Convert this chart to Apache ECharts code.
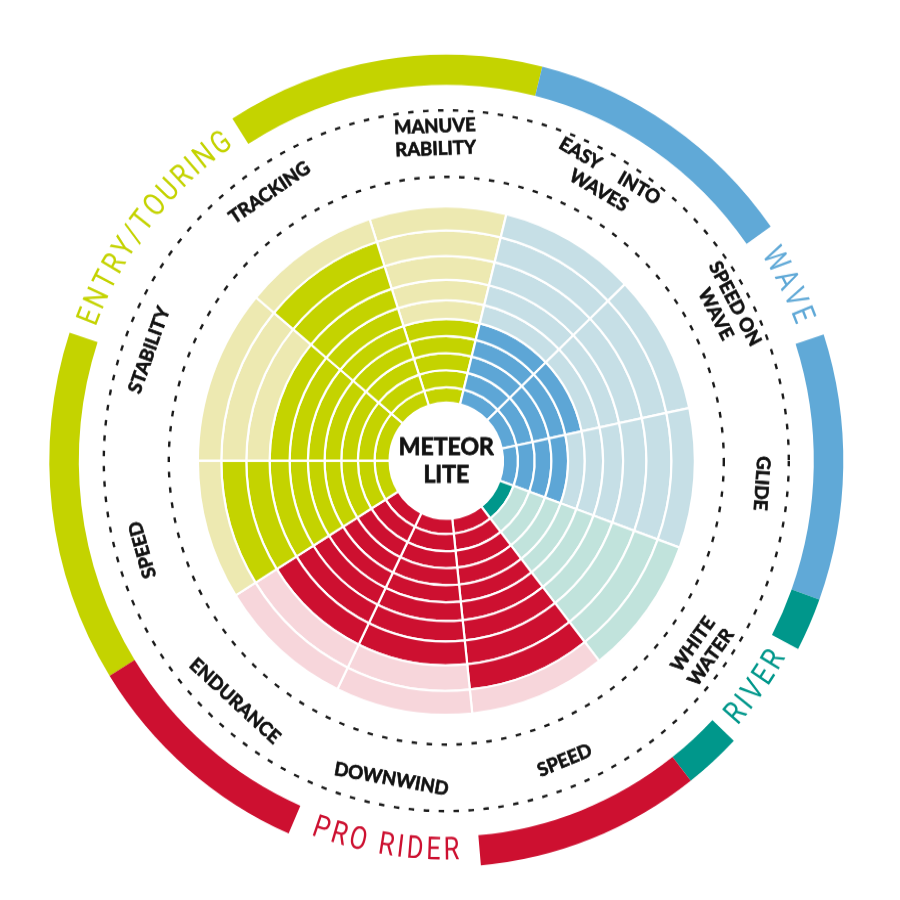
<!DOCTYPE html>
<html><head><meta charset="utf-8">
<script src="https://cdn.jsdelivr.net/npm/echarts@6/dist/echarts.min.js"></script>
<style>
html,body{margin:0;padding:0;background:#fff;}
#chart{width:900px;height:900px;transform:scaleY(1.023);transform-origin:0 460.7px;}
</style>
</head><body><div id="chart"></div>
<script>
// ---------------- data ----------------
const categories = ['MANUVE\nRABILITY', 'EASY     INTO\nWAVES', 'SPEED ON\nWAVE', 'GLIDE', 'WHITE\nWATER',
  'SPEED', 'DOWNWIND', 'ENDURANCE', 'SPEED', 'STABILITY', 'TRACKING'];
const categoryGroup = [0, 1, 1, 1, 2, 3, 3, 3, 0, 0, 0];
const scores = [5, 5, 5, 4, 1, 9, 8, 8, 9, 7, 9];
const categorySpan = [32, 32, 32, 32, 32, 32, 32, 32, 32, 40, 32]; // angle-axis units (degrees)
const groups = ['ENTRY/TOURING', 'WAVE', 'RIVER', 'PRO RIDER'];
// radius-axis value of rating 0..10 (non-linear rating scale)
const ratingTicks = [56.7, 71.7, 88.4, 105, 121.7, 138.4, 156.7, 176.7, 200, 225, 248.4];
const productName = 'METEOR\nLITE';

// ---------------- layout & style ----------------
const layout = {
  center: [446.3, 460.7],
  startAngle: 108,
  labelRadius: 316,
  dashedRadii: [277.5, 342.5],
  arcBand: [367.5, 397],
  arcTextRadius: 382,
  groupGap: [[306.4, 345.4], [72.8, 89.9], [135.6, 151.6], [193, 221.4]]
};
const groupDark = ['#c4d300', '#5da6d6', '#00978b', '#cd1030'];
const groupLight = ['#ede9b1', '#c6dfe6', '#c1e3dc', '#f7d6db'];
const groupArcColor = ['#c4d300', '#60a9d7', '#00978b', '#cd1030'];
const groupFont = 'normal 31px Roboto, "Open Sans", sans-serif';
const groupScaleX = 0.82;
const groupLetterSpacing = 3;
const labelFont = { fontSize: 18.5, fontWeight: 'bold', fontFamily: 'Lato, "Open Sans", sans-serif' };

const catStart = [];
(function(){ let a = 0; categorySpan.forEach(s => { catStart.push(a); a += s; }); })();

const mctx = document.createElement('canvas').getContext('2d');
function measure(t, font) { mctx.font = font; return mctx.measureText(t).width; }

function sectorShape(api, cs, rIn, rOut, a0, a1) {
  const cx = cs.cx, cy = cs.cy;
  const pIn = api.coord([rIn, a0]);
  const pOut = api.coord([rOut, a0]);
  const pEnd = api.coord([rOut, a1]);
  const r0 = Math.hypot(pIn[0] - cx, pIn[1] - cy);
  const r = Math.hypot(pOut[0] - cx, pOut[1] - cy);
  const s = Math.atan2(pOut[1] - cy, pOut[0] - cx);
  let e = Math.atan2(pEnd[1] - cy, pEnd[0] - cx);
  while (e <= s) e += 2 * Math.PI;
  return { cx, cy, r0, r, startAngle: s, endAngle: e, clockwise: true };
}
function compassOf(cs, p) {
  const d = Math.atan2(p[0] - cs.cx, -(p[1] - cs.cy)) * 180 / Math.PI;
  return (d + 360) % 360;
}

const cellData = [];
categories.forEach((c, i) => { for (let k = 0; k < ratingTicks.length - 1; k++) cellData.push([i, k]); });

function renderCell(params, api) {
  const i = api.value(0), k = api.value(1);
  const cs = params.coordSys;
  const a0 = catStart[i], a1 = a0 + categorySpan[i];
  const g = categoryGroup[i];
  return {
    type: 'sector',
    shape: sectorShape(api, cs, ratingTicks[k], ratingTicks[k + 1], a0, a1),
    style: { fill: k < scores[i] ? groupDark[g] : groupLight[g], stroke: '#ffffff', lineWidth: 2.2 }
  };
}

function renderDashed(params, api) {
  const cs = params.coordSys;
  const r = layout.dashedRadii[api.value(0)];
  const p = api.coord([r, 0]);
  return {
    type: 'circle',
    shape: { cx: cs.cx, cy: cs.cy, r: Math.hypot(p[0] - cs.cx, p[1] - cs.cy) },
    style: { fill: 'none', stroke: '#1a1a1a', lineWidth: 2.4, lineDash: [5.5, 9.5] }
  };
}

function renderGroup(params, api) {
  const gi = api.value(0);
  const cs = params.coordSys;
  const n = categories.length;
  let first = 0;
  for (let i = 0; i < n; i++) {
    if (categoryGroup[i] === gi && categoryGroup[(i - 1 + n) % n] !== gi) { first = i; break; }
  }
  let span = 0, i = first;
  while (categoryGroup[i] === gi && span < 360) { span += categorySpan[i]; i = (i + 1) % n; }
  const start = catStart[first], end = start + span;
  let g0 = layout.groupGap[gi][0], g1 = layout.groupGap[gi][1];
  while (g0 < start) { g0 += 360; g1 += 360; }
  const children = [];
  [[start, g0], [g1, end]].forEach(([a, b]) => {
    if (b > a) children.push({
      type: 'sector',
      shape: sectorShape(api, cs, layout.arcBand[0], layout.arcBand[1], a, b),
      style: { fill: groupArcColor[gi] }
    });
  });
  const mid = (g0 + g1) / 2;
  const midPt = api.coord([layout.arcTextRadius, mid]);
  const R = Math.hypot(midPt[0] - cs.cx, midPt[1] - cs.cy);
  const comp = compassOf(cs, midPt);
  const flip = comp > 100 && comp < 250;
  const chars = groups[gi].split('');
  const widths = chars.map(c => measure(c, groupFont) * groupScaleX);
  const total = widths.reduce((a, b) => a + b, 0) + groupLetterSpacing * (chars.length - 1);
  let acc = 0;
  chars.forEach((ch, j) => {
    const s = acc + widths[j] / 2 - total / 2;
    acc += widths[j] + groupLetterSpacing;
    const dA = s / R * 180 / Math.PI;
    const a = flip ? mid - dA : mid + dA;
    const p = api.coord([layout.arcTextRadius, a]);
    const c = compassOf(cs, p);
    const rot = flip ? c - 180 : c;
    children.push({
      type: 'text', x: p[0], y: p[1], rotation: -rot * Math.PI / 180, scaleX: groupScaleX,
      style: { text: ch, fill: groupArcColor[gi], font: groupFont, align: 'center', verticalAlign: 'middle' }
    });
  });
  return { type: 'group', children };
}

function renderLabel(params, api) {
  const i = api.value(0);
  const cs = params.coordSys;
  const mid = catStart[i] + categorySpan[i] / 2;
  const p = api.coord([layout.labelRadius, mid]);
  const c = compassOf(cs, p);
  const flip = c > 100 && c < 250;
  const rot = flip ? c - 180 : (c > 180 ? c - 360 : c);
  return {
    type: 'text', x: p[0], y: p[1], rotation: -rot * Math.PI / 180,
    style: Object.assign({
      text: categories[i], fill: '#111111', stroke: '#111111', lineWidth: 0.7,
      align: 'center', verticalAlign: 'middle', lineHeight: 22
    }, labelFont)
  };
}

function renderCenter(params, api) {
  const p = api.coord([0, 0]);
  return {
    type: 'text', x: p[0], y: p[1],
    style: {
      text: productName, fill: '#111111', stroke: '#111111', lineWidth: 0.8, fontSize: 23, fontWeight: 'bold',
      fontFamily: 'Lato, "Open Sans", sans-serif', align: 'center', verticalAlign: 'middle', lineHeight: 27
    }
  };
}

const chart = echarts.init(document.getElementById('chart'), null, { renderer: 'canvas' });
const common = { type: 'custom', coordinateSystem: 'polar', silent: true, animation: false };
chart.setOption({
  backgroundColor: '#ffffff',
  animation: false,
  polar: { center: layout.center, radius: [0, 420] },
  angleAxis: { type: 'value', min: 0, max: 360, startAngle: layout.startAngle, clockwise: true, show: false },
  radiusAxis: { type: 'value', min: 0, max: 420, show: false },
  series: [
    Object.assign({}, common, { name: 'cells', data: cellData, renderItem: renderCell }),
    Object.assign({}, common, { name: 'dashed', data: layout.dashedRadii.map((r, i) => [i, 0]), renderItem: renderDashed }),
    Object.assign({}, common, { name: 'groups', data: groups.map((g, i) => [i, 0]), renderItem: renderGroup }),
    Object.assign({}, common, { name: 'labels', data: categories.map((c, i) => [i, 0]), renderItem: renderLabel }),
    Object.assign({}, common, { name: 'center', data: [[0, 0]], renderItem: renderCenter })
  ]
});
</script>
</body></html>
